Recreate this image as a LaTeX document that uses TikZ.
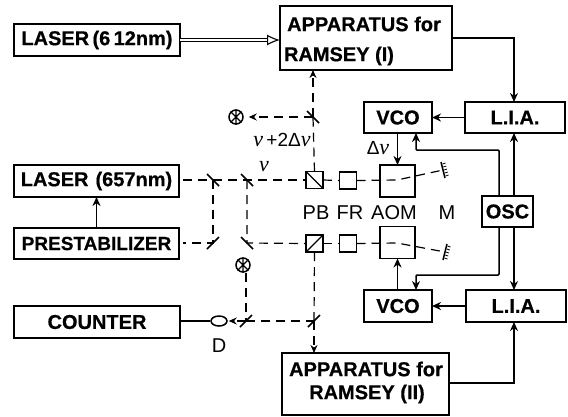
\documentclass[tikz,border=0pt]{standalone}
\usepackage{fontspec}
\setmainfont[BoldFeatures={FakeBold=0.6}]{Liberation Sans}
\newfontfamily\nufont{Liberation Serif}
\usetikzlibrary{arrows.meta,calc,shapes.geometric}
\newcommand{\nusym}{{\nufont\itshape\fontsize{22}{22}\selectfont ν}}
\tikzset{
  x=1pt,y=-1pt,
  blk/.style={draw,line width=1.8pt,inner sep=0pt,outer sep=0pt,font=\fontsize{20}{22}\selectfont\bfseries,align=center,anchor=north west},
  blklabel/.style={inner sep=0pt,font=\fontsize{20}{22}\selectfont\bfseries},
  sig/.style={line width=1.5pt,-{Stealth[length=9pt,width=8pt]}},
  bare/.style={line width=1.5pt},
  beam/.style={line width=1.2pt,dash pattern=on 9pt off 6pt},
  beamarrow/.style={beam,-{Stealth[length=8pt,width=7pt]}},
  slash/.style={line width=1.6pt},
  small/.style={draw,line width=1.6pt,inner sep=0pt,outer sep=0pt,minimum width=17pt,minimum height=17pt},
  aom/.style={draw,line width=1.6pt,inner sep=0pt,outer sep=0pt,minimum width=35pt,minimum height=32pt},
  txt/.style={inner sep=0pt,font=\fontsize{20}{20}\selectfont},
  greek/.style={inner sep=0pt,font=\fontsize{19}{20}\selectfont},
  chop/.style={circle,draw,line width=1.5pt,minimum size=14pt,inner sep=0pt},
  pt/.style={inner sep=0pt,minimum size=0pt}
}
\newcommand{\chopmark}[1]{%
  \draw[line width=1.1pt] (#1.north)--(#1.south) (#1.north east)--(#1.south west) (#1.north west)--(#1.south east);}
\newcommand{\nesw}[1]{\draw[slash] ([shift={(6,-6)}]#1.center)--([shift={(-6,6)}]#1.center);}
\newcommand{\nwse}[1]{\draw[slash] ([shift={(-6,-6)}]#1.center)--([shift={(6,6)}]#1.center);}
\begin{document}
\begin{tikzpicture}
\useasboundingbox (0,0) rectangle (568,416);
% blocks
\node[blk,minimum width=166pt,minimum height=32pt] (l612) at (14,24) {LASER\,(6\,12nm)};
\node[blk,minimum width=172pt,minimum height=64pt] (app1) at (280,6) {};
\node[blklabel] (app1a) at (364,24) {APPARATUS for};
\node[blklabel] (app1b) at (339,56) {RAMSEY (I)};
\node[blk,minimum width=68pt,minimum height=31pt] (vco1) at (364,102) {VCO};
\node[blk,minimum width=100pt,minimum height=31pt] (lia1) at (465,102) {L.I.A.};
\node[blk,minimum width=165pt,minimum height=32pt] (l657) at (14,165) {LASER\hspace{.35em}(657nm)};
\node[blk,minimum width=165pt,minimum height=31pt,font=\fontsize{19}{22}\selectfont\bfseries] (pre) at (14,228) {PRESTABILIZER};
\node[blk,minimum width=166pt,minimum height=32pt] (cnt) at (14,306) {COUNTER};
\node[blk,minimum width=51pt,minimum height=31pt] (osc) at (482,196) {OSC};
\node[blk,minimum width=68pt,minimum height=32pt] (vco2) at (364,290) {VCO};
\node[blk,minimum width=100pt,minimum height=32pt] (lia2) at (466,290) {L.I.A.};
\node[blk,minimum width=167pt,minimum height=62pt] (app2) at (282,353) {};
\node[blklabel] (app2a) at (366,369) {APPARATUS for};
\node[blklabel] (app2b) at (367,394) {RAMSEY (II)};
% optics
\node[small] (pb1) at (314.5,180) {};
\node[small] (fr1) at (348,180.5) {};
\node[aom] (aom1) at (397.5,181) {};
\node[small] (pb2) at (314.5,243.5) {};
\node[small] (fr2) at (348,243.5) {};
\node[aom] (aom2) at (397.5,242.5) {};
\draw[line width=1.4pt] (pb1.north west)--(pb1.south east);
\draw[line width=1.4pt] (pb2.south west)--(pb2.north east);
\node[pt] (m1) at (213,180) {};
\node[pt] (m2) at (247,180) {};
\node[pt] (m3) at (213,243) {};
\node[pt] (m4) at (247,243) {};
\node[pt] (m5) at (246,321) {};
\node[pt] (m6) at (314,321) {};
\node[pt] (m7) at (313,117) {};
\node[pt] (ma) at (397,180) {};
\node[pt] (mb) at (397,243) {};
\node[pt] (mt) at (443,170) {};
\node[pt] (mu) at (445,252) {};
\nwse{m1}\nwse{m2}\nesw{m3}\nwse{m4}\nesw{m5}\nesw{m6}\nwse{m7}
\draw[line width=1.5pt] ([shift={(-2,-8)}]mt.center)--([shift={(2,8)}]mt.center);
\draw[line width=1.5pt] ([shift={(2,-8)}]mu.center)--([shift={(-2,8)}]mu.center);
\foreach \i in {-6,-3,0,3,6}{
  \draw[line width=.8pt] ([shift={(\i*.25+1,\i)}]mt.center)--++(3,-1);
  \draw[line width=.8pt] ([shift={(-\i*.25+1,\i)}]mu.center)--++(3,1);
}
\node[chop] (ch1) at (236,117) {};\chopmark{ch1}
\node[chop] (ch2) at (243,265) {};\chopmark{ch2}
\node[draw,ellipse,line width=1.5pt,minimum width=16pt,minimum height=10pt,inner sep=0pt] (det) at (219,321) {};
% beams
\draw[beam] ([xshift=4pt]l657.east|-m1)--(m1.center)--(m2.center)--(pb1.west);
\draw[beam] (pb1.east)--(fr1.west);
\draw[beam] (fr1.east)--(ma.center)--(mt.center);
\draw[beam] (m1.center)--(m3.center)--([xshift=4pt]pre.east|-m3);
\draw[beam] (m2.center)--(m4.center)--(pb2.west);
\draw[beam] (pb2.east)--(fr2.west);
\draw[beam] (fr2.east)--(mb.center)--(mu.center);
\draw[beam] (m5|-ch2.south)--(m5.center);
\draw[beamarrow,shorten >=1pt] (m5.center)--(det.east);
\draw[beam] (m5.center)--(m6.center);
\draw[beam] (pb2.south)--(m6.center);
\draw[beamarrow] (m6.center)--(m6|-app2.north);
\draw[beam] (pb1.north)--(m7.center);
\draw[beamarrow] (m7.center)--(m7|-app1.south);
\draw[beamarrow,shorten >=5pt] (m7.center)--(ch1.east);
% signals
\draw[double,double distance=2pt,line width=1.1pt,-{Latex[open,length=13pt,width=11pt]}] (l612.east)--(app1.west|-l612.east);
\draw[sig] (pre.north)--(l657.south);
\draw[bare] (cnt.east|-det)--(det.west);
\coordinate (c1) at (514,38);
\coordinate (c2) at (514,383);
\draw[sig] (app1.east|-c1)--(c1)--(c1|-lia1.north);
\draw[sig] (c1|-osc.north)--(c1|-lia1.south);
\draw[sig] (c1|-osc.south)--(c1|-lia2.north);
\draw[sig] (app2.east|-c2)--(c2)--(c2|-lia2.south);
\draw[sig] (lia1.west)--(vco1.east);
\draw[sig] (lia2.west)--(vco2.east);
\draw[sig] (vco1.south-|aom1)--(aom1.north);
\draw[sig] (vco2.north-|aom2)--(aom2.south);
\coordinate (o1) at (499,150);
\coordinate (o2) at (416,150);
\coordinate (o3) at (499,275);
\coordinate (o4) at (416,275);
\draw[sig,rounded corners=1pt] (o1|-osc.north)--(o1)--(o2)--(o2|-vco1.south);
\draw[sig,rounded corners=1pt] (o3|-osc.south)--(o3)--(o4)--(o4|-vco2.north);
% labels
\node[txt] (lpb) at (316,213) {PB};
\node[txt] (lfr) at (350,213) {FR};
\node[txt] (laom) at (394,213) {AOM};
\node[txt] (lm) at (447,213) {M};
\node[txt] (ld) at (219,346) {D};
\node[greek] (n0) at (264,167) {\nusym};
\node[greek] (n1) at (282,140) {\nusym\,+2Δ\nusym};
\node[greek] (n2) at (378,148) {Δ\nusym};
\end{tikzpicture}
\end{document}
